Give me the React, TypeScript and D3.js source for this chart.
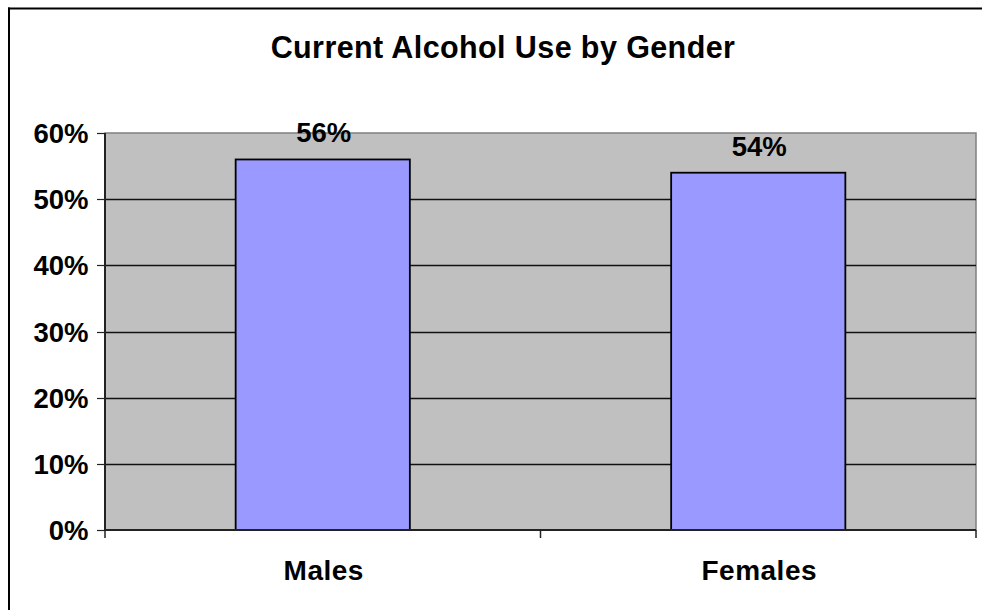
import React from "react";
import * as d3 from "d3";

const title = "Current Alcohol Use by Gender";
const categories = ["Males", "Females"];
const values = [0.56, 0.54];
const yTicks = [0, 0.1, 0.2, 0.3, 0.4, 0.5, 0.6];

const W = 982;
const H = 610;
const plot = { left: 105, right: 976, top: 133, bottom: 530 };
const FONT = "Arial, 'Liberation Sans', Helvetica, sans-serif";

export default function App() {
  const x = d3
    .scaleBand<string>()
    .domain(categories)
    .range([plot.left, plot.right])
    .paddingInner(0.6)
    .paddingOuter(0.3);
  const band = d3.scaleBand<string>().domain(categories).range([plot.left, plot.right]);
  const y = d3.scaleLinear().domain([0, 0.6]).range([plot.bottom, plot.top]);
  const fmt = d3.format(".0%");

  const xTickPositions = [plot.left, ...categories.map((c) => (band(c) as number) + band.bandwidth())];

  return (
    <svg
      width={W}
      height={H}
      style={{ position: "absolute", left: 0, top: 0, overflow: "hidden" }}
      fontFamily={FONT}
    >
      <rect x={0} y={0} width={W} height={H} fill="#fff" />
      <line x1={9} x2={9} y1={7.5} y2={H} stroke="#000" strokeWidth={2} />
      <line x1={8} x2={W} y1={8.5} y2={8.5} stroke="#000" strokeWidth={2} />
      <text
        x={503}
        y={58}
        textAnchor="middle"
        fontSize={30.5}
        fontWeight="bold"
        letterSpacing={0.4}
      >
        {title}
      </text>
      <rect
        x={plot.left}
        y={plot.top}
        width={plot.right - plot.left}
        height={plot.bottom - plot.top}
        fill="#C0C0C0"
        stroke="#808080"
        strokeWidth={1.5}
      />
      {yTicks
        .filter((t) => t > 0 && t < 0.6)
        .map((t) => (
          <line
            key={"g" + t}
            x1={plot.left}
            x2={plot.right}
            y1={Math.round(y(t)) + 0.5}
            y2={Math.round(y(t)) + 0.5}
            stroke="#111"
            strokeWidth={1.3}
          />
        ))}
      {categories.map((c, i) => {
        const bx = x(c) as number;
        return (
          <g key={c}>
            <rect
              x={bx}
              y={y(values[i])}
              width={x.bandwidth()}
              height={plot.bottom - y(values[i])}
              fill="#9999FF"
              stroke="#000"
              strokeWidth={1.8}
            />
            <text
              x={bx + x.bandwidth() / 2 + 1}
              y={y(values[i]) - 17}
              textAnchor="middle"
              fontSize={27.5}
              fontWeight="bold"
            >
              {fmt(values[i])}
            </text>
            <text
              x={bx + x.bandwidth() / 2 + 1}
              y={580}
              textAnchor="middle"
              fontSize={28}
              fontWeight="bold"
              letterSpacing={0.5}
            >
              {c}
            </text>
          </g>
        );
      })}
      <line x1={plot.left} x2={plot.left} y1={plot.top} y2={plot.bottom} stroke="#222" strokeWidth={2} />
      <line x1={plot.left} x2={plot.right} y1={plot.bottom} y2={plot.bottom} stroke="#222" strokeWidth={2} />
      {yTicks.map((t) => (
        <g key={"t" + t}>
          <line
            x1={plot.left - 8}
            x2={plot.left}
            y1={Math.round(y(t)) + 0.5}
            y2={Math.round(y(t)) + 0.5}
            stroke="#222"
            strokeWidth={1.2}
          />
          <text
            x={88.5}
            y={y(t) + 10}
            textAnchor="end"
            fontSize={27.5}
            fontWeight="bold"
          >
            {fmt(t)}
          </text>
        </g>
      ))}
      {xTickPositions.map((px, i) => (
        <line
          key={"x" + i}
          x1={px}
          x2={px}
          y1={plot.bottom}
          y2={plot.bottom + 8}
          stroke="#222"
          strokeWidth={1.5}
        />
      ))}
    </svg>
  );
}
